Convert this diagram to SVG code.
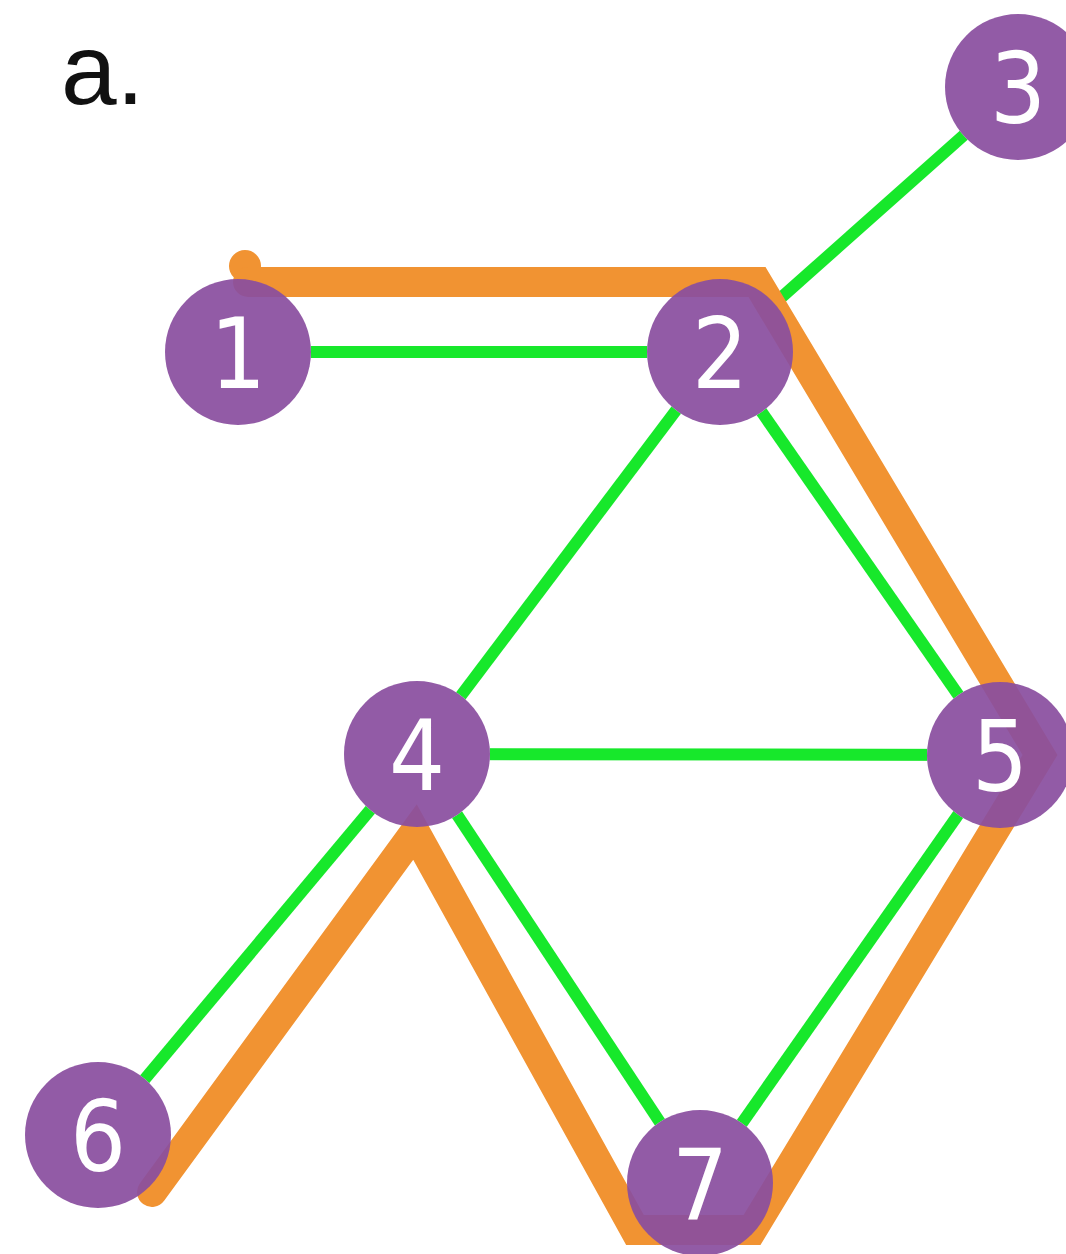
<svg xmlns="http://www.w3.org/2000/svg" width="1066" height="1254" viewBox="0 0 1066 1254">
<style>
.g{stroke:#17e82b;stroke-width:12;fill:none}
.o{stroke:#f19332;stroke-width:30;fill:none;stroke-linecap:round;stroke-linejoin:miter}
.mask{fill:#fff}
.n{fill:#8a4f9f;fill-opacity:0.93}
.t{fill:#fff;font-family:"DejaVu Sans","Roboto",sans-serif;font-stretch:condensed;font-size:98px;text-anchor:middle}
</style>
<rect width="1066" height="1254" fill="#fff"/>
<text x="61" y="104" font-family="Liberation Sans, Arial, sans-serif" font-size="100" fill="#111">a.</text>
<g id="connectors">
<g id="green">
<line class="g" x1="238" y1="352" x2="720" y2="352"/>
<line class="g" x1="720" y1="352" x2="1018" y2="87"/>
<line class="g" x1="720" y1="352" x2="417" y2="754"/>
<line class="g" x1="720" y1="352" x2="1000" y2="755"/>
<line class="g" x1="417" y1="754" x2="1000" y2="755"/>
<line class="g" x1="417" y1="754" x2="98" y2="1135"/>
<line class="g" x1="417" y1="754" x2="700" y2="1183"/>
<line class="g" x1="1000" y1="755" x2="700" y2="1183"/>
</g>
<g id="masks">
<circle class="mask" cx="238" cy="352" r="73"/>
<circle class="mask" cx="720" cy="352" r="73"/>
<circle class="mask" cx="1018" cy="87" r="73"/>
<circle class="mask" cx="417" cy="754" r="73"/>
<circle class="mask" cx="1000" cy="755" r="73"/>
<circle class="mask" cx="98" cy="1135" r="73"/>
<circle class="mask" cx="700" cy="1183" r="73"/>
</g>
<g id="orange">
<circle cx="245" cy="266" r="16" fill="#f19332"/>
<path class="o" d="M248 282 L757 282 L1040 755 L752 1230 L635 1230 L415 832 L152 1192"/>
</g>
</g>
<g id="node1"><circle class="n" cx="238" cy="352" r="73"/><text class="t" x="238" y="388">1</text></g>
<g id="node2"><circle class="n" cx="720" cy="352" r="73"/><text class="t" x="720" y="388">2</text></g>
<g id="node3"><circle class="n" cx="1018" cy="87" r="73"/><text class="t" x="1018" y="123">3</text></g>
<g id="node4"><circle class="n" cx="417" cy="754" r="73"/><text class="t" x="417" y="790">4</text></g>
<g id="node5"><circle class="n" cx="1000" cy="755" r="73"/><text class="t" x="1000" y="791">5</text></g>
<g id="node6"><circle class="n" cx="98" cy="1135" r="73"/><text class="t" x="98" y="1171">6</text></g>
<g id="node7"><circle class="n" cx="700" cy="1183" r="73"/><text class="t" x="700" y="1219">7</text></g>
</svg>
